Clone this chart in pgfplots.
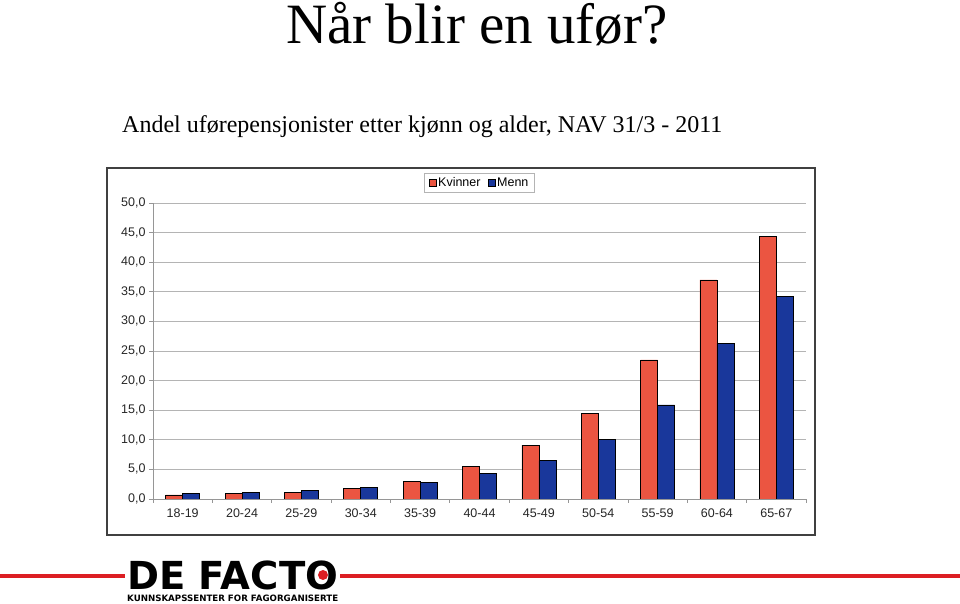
\documentclass[border=0pt]{standalone}
\usepackage{fontspec}
\setmainfont{Liberation Sans}
\newfontfamily\serif{Liberation Serif}
\newfontfamily\logofont{DejaVu Sans}
\usepackage{pgfplots}
\pgfplotsset{compat=1.18}
\definecolor{kv}{RGB}{235,85,65}
\definecolor{me}{RGB}{25,55,155}
\definecolor{gridc}{RGB}{180,180,180}
\definecolor{axc}{RGB}{150,150,150}
\definecolor{logored}{RGB}{220,30,35}
\begin{document}
\begin{tikzpicture}[x=1pt,y=1pt]
\useasboundingbox (0,0) rectangle (960,604);
\node[anchor=base, font=\serif\fontsize{57}{60}\selectfont, inner sep=0] at (477,560) {Når blir en ufør?};
\node[anchor=base west, font=\serif\fontsize{24}{28}\selectfont, inner sep=0] at (122,471) {Andel uførepensjonister etter kjønn og alder, NAV 31/3 - 2011};
\draw[line width=1.5, black!75] (107,69) rectangle (815,436);
\begin{axis}[
  at={(153pt,105pt)}, anchor=south west,
  scale only axis, width=653pt, height=296pt,
  xmin=-0.5, xmax=10.5, ymin=0, ymax=50,
  ybar=0pt, bar width=17pt,
  axis lines*=left,
  axis line style={axc, line width=0.8pt},
  ytick={0,5,...,50},
  ymajorgrids, major grid style={gridc, line width=0.8pt},
  xtick={0,...,10},
  xticklabels={18-19,20-24,25-29,30-34,35-39,40-44,45-49,50-54,55-59,60-64,65-67},
  minor xtick={-0.5,0.5,...,10.5},
  tick align=outside,
  major tick length=4pt, minor tick length=4pt,
  major x tick style={draw=none},
  minor x tick style={axc, line width=0.8pt},
  major y tick style={axc, line width=0.8pt},
  /pgf/number format/assume math mode=true,
  yticklabel style={/pgf/number format/.cd, fixed, fixed zerofill, precision=1, use comma},
  tick label style={font=\fontsize{12.5}{14}\selectfont, text=black!85},
  xticklabel style={yshift=-2pt},
  legend style={at={(0.5,1.069)}, anchor=center, legend columns=2, draw=gridc,
    font=\fontsize{12.5}{14}\selectfont, inner xsep=4pt, inner ysep=2.5pt,
    /tikz/every even column/.append style={column sep=5pt}},
  legend image code/.code={\draw[#1] (0pt,-3.5pt) rectangle (7pt,3.5pt);},
]
\addplot[fill=kv, draw=black, line width=0.6pt] coordinates {
(0,0.7) (1,0.9) (2,1.1) (3,1.8) (4,3.0) (5,5.5) (6,9.1) (7,14.5) (8,23.5) (9,37.0) (10,44.4)};
\addplot[fill=me, draw=black, line width=0.6pt] coordinates {
(0,0.9) (1,1.1) (2,1.4) (3,2.0) (4,2.8) (5,4.3) (6,6.5) (7,10.1) (8,15.9) (9,26.3) (10,34.2)};
\legend{Kvinner,Menn}
\end{axis}
\draw[logored, line width=4] (0,28) -- (125,28);
\draw[logored, line width=4] (340,28) -- (960,28);
\node[anchor=south west, inner sep=0, font=\logofont\bfseries] at (127,2) {\vbox{\offinterlineskip
  \hbox{\resizebox{211pt}{!}{\fontsize{38.4}{40}\selectfont DE FACTO}}
  \vskip 5pt
  \hbox{\resizebox{211pt}{6.5pt}{KUNNSKAPSSENTER FOR FAGORGANISERTE}}}};
\fill[logored] (323,29) circle (5);
\end{tikzpicture}
\end{document}
